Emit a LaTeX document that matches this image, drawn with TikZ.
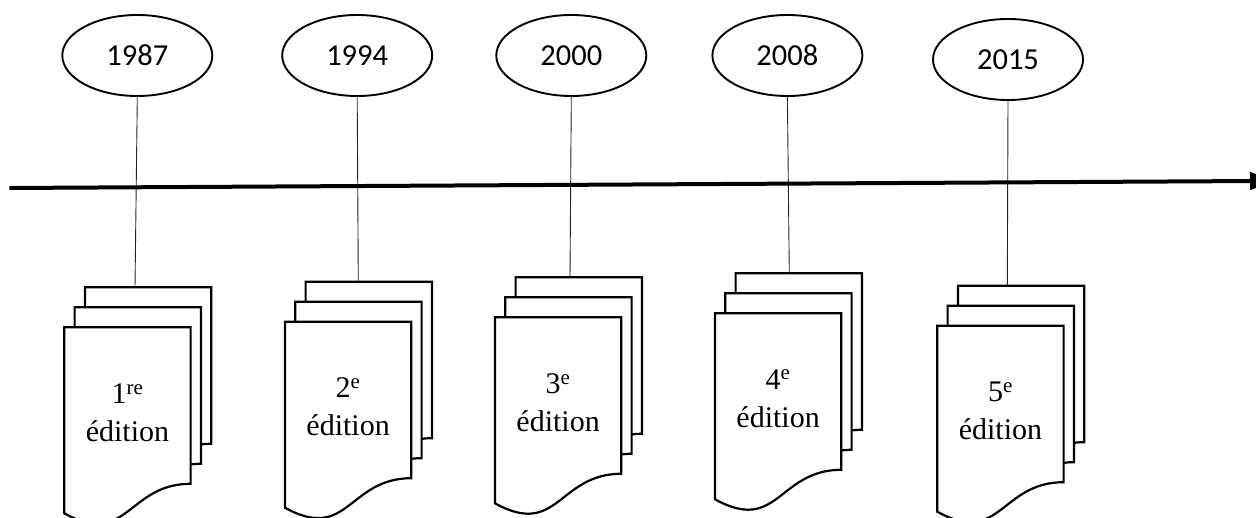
\documentclass[tikz,border=0pt]{standalone}
\usepackage{fontspec}
\setmainfont{Liberation Serif}
\newfontfamily\yearfont{Carlito}
\usetikzlibrary{shapes.geometric,arrows.meta}

\tikzset{
  yearnode/.style={ellipse, draw, line width=1.9pt, minimum width=150pt, minimum height=81pt, inner sep=0pt,
    font=\yearfont\fontsize{30.5}{36}\selectfont},
  sheet/.style={draw, fill=white, line width=2.2pt, line join=miter},
  stem/.style={draw, line width=0.9pt, black!85},
  timeline/.style={line width=4pt, -{Triangle[length=25pt,width=17pt]}},
  edlabel/.style={align=center, inner sep=0pt, font=\fontsize{30}{38}\selectfont},
}

\newcommand\docsheet[2]{%
  \pgfmathsetmacro\dsXr{#1+126.3}%
  \pgfmathsetmacro\dsXm{#1+63.15}%
  \pgfmathsetmacro\dsYt{#2}%
  \pgfmathsetmacro\dsXl{#1}%
  \pgfmathsetmacro\dsYr{#2+156.5}%
  \pgfmathsetmacro\dsYc{#2+221}%
  \pgfmathsetmacro\dsYl{#2+186}%
  \draw[sheet] (\dsXl,\dsYt) -- (\dsXr,\dsYt) -- (\dsXr,\dsYr)
    .. controls (\dsXm,\dsYr) and (\dsXm,\dsYc) .. (\dsXl,\dsYl) -- cycle;
}

\begin{document}
\begin{tikzpicture}[x=1pt,y=-1pt]
\useasboundingbox (0,0) rectangle (1256,518);
\clip (0,0) rectangle (1256,518);

% document stacks (back, middle, front)
\foreach \fx/\fy in {64.3/327.3, 285/321.7, 495/317.3, 715/313.3, 937.3/325.7}{
  \docsheet{\fx+20.6}{\fy-40}
  \docsheet{\fx+10.3}{\fy-20}
  \docsheet{\fx}{\fy}
}

% edition labels
\node[edlabel] (d1) at (127.45,412.3) {1\textsuperscript{re}\\édition};
\node[edlabel] (d2) at (348.15,406.7) {2\textsuperscript{e}\\édition};
\node[edlabel] (d3) at (558.15,402.3) {3\textsuperscript{e}\\édition};
\node[edlabel] (d4) at (778.15,398.3) {4\textsuperscript{e}\\édition};
\node[edlabel] (d5) at (1000.45,410.7) {5\textsuperscript{e}\\édition};

% year ellipses
\node[yearnode] (y1) at (137.3,55.5) {1987};
\node[yearnode] (y2) at (357.2,55.5) {1994};
\node[yearnode] (y3) at (571.3,55.5) {2000};
\node[yearnode] (y4) at (787.4,55.5) {2008};
\node[yearnode] (y5) at (1008,59.5) {2015};

% stem end points on the back sheets
\coordinate (s1) at (135,287.3);
\coordinate (s2) at (358.3,281.7);
\coordinate (s3) at (570,277.7);
\coordinate (s4) at (789.3,273.3);
\coordinate (s5) at (1007.3,285.7);

\draw[stem] (y1.south) -- (s1);
\draw[stem] (y2.south) -- (s2);
\draw[stem] (y3.south) -- (s3);
\draw[stem] (y4.south) -- (s4);
\draw[stem] (y5.south) -- (s5);

% timeline arrow
\coordinate (ta) at (9.3,188);
\coordinate (tb) at (1275,180.9);
\draw[timeline] (ta) -- (tb);
\end{tikzpicture}
\end{document}
